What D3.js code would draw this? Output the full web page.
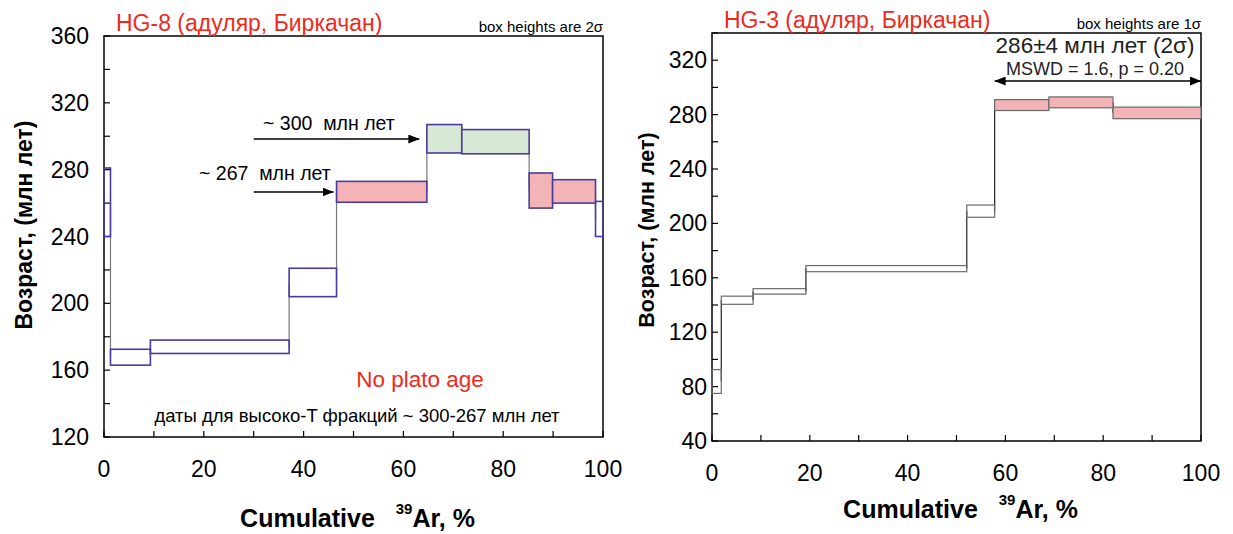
<!DOCTYPE html>
<html>
<head>
<meta charset="utf-8">
<script src="https://cdn.jsdelivr.net/npm/d3@7"></script>
<style>
  body { margin: 0; background: #fff; }
  text { font-family: Arial, "Liberation Sans", sans-serif; white-space: pre; }
</style>
</head>
<body>
<div id="chart"></div>
<script>
// HG-8 steps: cumulative 39Ar (%) boundaries and age range (Ma)
var hg8_x = [0, 1.3, 9.3, 37.1, 46.6, 64.7, 71.7, 85.2, 89.9, 98.5, 100];
var hg8_lo = [240, 163, 170, 204, 260.5, 290, 289.5, 257, 260, 240];
var hg8_hi = [281, 172.5, 178, 221, 273, 307, 304, 278, 274, 261];
var hg8_fill = ["none", "none", "none", "none", "pink", "green", "green", "pink", "pink", "none"];

// HG-3 steps
var hg3_x = [0, 1.9, 8.4, 19.2, 52.1, 57.8, 68.9, 82, 100];
var hg3_lo = [75, 140.5, 148, 164.5, 204.5, 283, 285, 277];
var hg3_hi = [92.5, 146.5, 152, 169, 213.5, 291, 293, 285.5];
var hg3_fill = ["none", "none", "none", "none", "none", "pink", "pink", "pink"];

var xTicks = [0, 20, 40, 60, 80, 100];
var hg8_yTicks = [120, 160, 200, 240, 280, 320, 360];
var hg3_yTicks = [40, 80, 120, 160, 200, 240, 280, 320];

var fills = { none: "none", pink: "#f4b3b6", green: "#d7e8d5" };

var W = 1233, H = 534;
var svg = d3.select("#chart").append("svg")
  .attr("width", W)
  .attr("height", H);

function drawPanel(o) {
  var x = d3.scaleLinear().domain([0, 100]).range([o.left, o.right]);
  var y = d3.scaleLinear().domain(o.yDomain).range([o.bottom, o.top]);
  var g = svg.append("g");

  // frame
  g.append("rect")
    .attr("x", o.left).attr("y", o.top)
    .attr("width", o.right - o.left).attr("height", o.bottom - o.top)
    .attr("fill", "none").attr("stroke", "#000").attr("stroke-width", 1.5);

  // inward ticks
  d3.range(0, 101, 10).forEach(function(v) {
    g.append("line")
      .attr("x1", x(v)).attr("x2", x(v))
      .attr("y1", o.bottom).attr("y2", o.bottom - 6)
      .attr("stroke", "#000").attr("stroke-width", 1.2);
  });
  d3.range(o.yDomain[0], o.yDomain[1] + 1, 20).forEach(function(v) {
    g.append("line")
      .attr("x1", o.left).attr("x2", o.left + 6)
      .attr("y1", y(v)).attr("y2", y(v))
      .attr("stroke", "#000").attr("stroke-width", 1.2);
  });

  // tick labels
  g.selectAll(".xl").data(xTicks).enter().append("text")
    .attr("x", function(d) { return x(d); })
    .attr("y", o.bottom + 40)
    .attr("text-anchor", "middle")
    .attr("font-size", 23)
    .text(function(d) { return d; });
  g.selectAll(".yl").data(o.yTicks).enter().append("text")
    .attr("x", o.yLabelX)
    .attr("y", function(d) { return y(d) + 8; })
    .attr("text-anchor", "end")
    .attr("font-size", 23)
    .text(function(d) { return d; });

  // connectors between steps (mid to mid)
  for (var i = 0; i < o.lo.length - 1; i++) {
    g.append("line")
      .attr("x1", x(o.xs[i + 1])).attr("x2", x(o.xs[i + 1]))
      .attr("y1", y((o.lo[i] + o.hi[i]) / 2))
      .attr("y2", y((o.lo[i + 1] + o.hi[i + 1]) / 2))
      .attr("stroke", o.connColor).attr("stroke-width", 1.2);
  }

  // step boxes
  g.selectAll(".box").data(o.lo).enter().append("rect")
    .attr("x", function(d, i) { return x(o.xs[i]); })
    .attr("width", function(d, i) { return x(o.xs[i + 1]) - x(o.xs[i]); })
    .attr("y", function(d, i) { return y(o.hi[i]); })
    .attr("height", function(d, i) { return y(o.lo[i]) - y(o.hi[i]); })
    .attr("fill", function(d, i) { return fills[o.fill[i]]; })
    .attr("stroke", o.boxColor)
    .attr("stroke-width", o.boxWidth);

  // axis titles
  g.append("text")
    .attr("transform", "translate(" + o.yTitleX + "," + o.yTitleY + ") rotate(-90)")
    .attr("text-anchor", "middle")
    .attr("font-size", o.yTitleSize).attr("font-weight", "bold")
    .text("Возраст, (млн лет)");
  var xt = g.append("text")
    .attr("x", (o.left + o.right) / 2 + 4)
    .attr("y", o.bottom + o.xTitleDy)
    .attr("text-anchor", "middle")
    .attr("font-size", 25).attr("font-weight", "bold");
  xt.append("tspan").text("Cumulative   ");
  xt.append("tspan").attr("font-size", 15).attr("dy", -13).text("39");
  xt.append("tspan").attr("dy", 13).text("Ar, %");

  // sample title + note
  g.append("text")
    .attr("x", o.left + 12).attr("y", o.top - 5)
    .attr("fill", "#ee2a1b").attr("font-size", 23)
    .text(o.title);
  g.append("text")
    .attr("x", o.right).attr("y", o.top - 4)
    .attr("text-anchor", "end").attr("font-size", 15)
    .text(o.note);

  return { x: x, y: y, g: g };
}

svg.append("defs").append("marker")
  .attr("id", "arr").attr("viewBox", "0 0 10 10")
  .attr("refX", 10).attr("refY", 5)
  .attr("markerWidth", 11).attr("markerHeight", 9)
  .attr("markerUnits", "userSpaceOnUse")
  .attr("orient", "auto-start-reverse")
  .attr("preserveAspectRatio", "none")
  .append("path").attr("d", "M0,0 L10,5 L0,10 z").attr("fill", "#000");

// ---- left panel HG-8
var p1 = drawPanel({
  left: 104, right: 603, top: 36, bottom: 437,
  yDomain: [120, 360], yTicks: hg8_yTicks, yLabelX: 89,
  xs: hg8_x, lo: hg8_lo, hi: hg8_hi, fill: hg8_fill,
  boxColor: "#4a3b9c", boxWidth: 1.6, connColor: "#777",
  yTitleX: 32, yTitleY: 225, yTitleSize: 23, xTitleDy: 90,
  title: "HG-8 (адуляр, Биркачан)", note: "box heights are 2σ"
});

p1.g.append("line")
  .attr("x1", p1.x(30)).attr("x2", p1.x(63.2))
  .attr("y1", 139).attr("y2", 139)
  .attr("stroke", "#000").attr("stroke-width", 1.6)
  .attr("marker-end", "url(#arr)");
p1.g.append("text").attr("x", 263).attr("y", 130).attr("font-size", 19.5)
  .text("~ 300  млн лет");
p1.g.append("line")
  .attr("x1", p1.x(30)).attr("x2", p1.x(46)).attr("y1", 192).attr("y2", 192)
  .attr("stroke", "#000").attr("stroke-width", 1.6)
  .attr("marker-end", "url(#arr)");
p1.g.append("text").attr("x", 199).attr("y", 180).attr("font-size", 19.5)
  .text("~ 267  млн лет");
p1.g.append("text").attr("x", 420).attr("y", 387).attr("text-anchor", "middle")
  .attr("fill", "#ee2a1b").attr("font-size", 22.5).text("No plato age");
p1.g.append("text").attr("x", 357).attr("y", 422).attr("text-anchor", "middle")
  .attr("font-size", 18.5).text("даты для высоко-T фракций ~ 300-267 млн лет");

// ---- right panel HG-3
var p2 = drawPanel({
  left: 712, right: 1201, top: 33, bottom: 441,
  yDomain: [40, 340], yTicks: hg3_yTicks, yLabelX: 707,
  xs: hg3_x, lo: hg3_lo, hi: hg3_hi, fill: hg3_fill,
  boxColor: "#6a6a6a", boxWidth: 1.2, connColor: "#222",
  yTitleX: 654, yTitleY: 230, yTitleSize: 21.5, xTitleDy: 77,
  title: "HG-3 (адуляр, Биркачан)", note: "box heights are 1σ"
});

p2.g.append("line")
  .attr("x1", p2.x(57.8)).attr("x2", p2.x(100))
  .attr("y1", 81).attr("y2", 81)
  .attr("stroke", "#000").attr("stroke-width", 1.6)
  .attr("marker-start", "url(#arr)").attr("marker-end", "url(#arr)");
p2.g.append("text").attr("x", 1095).attr("y", 53).attr("text-anchor", "middle")
  .attr("font-size", 22.5).attr("fill", "#222").text("286±4 млн лет (2σ)");
p2.g.append("text").attr("x", 1095).attr("y", 75).attr("text-anchor", "middle")
  .attr("font-size", 18).attr("fill", "#222").text("MSWD = 1.6, p = 0.20");
</script>
</body>
</html>
